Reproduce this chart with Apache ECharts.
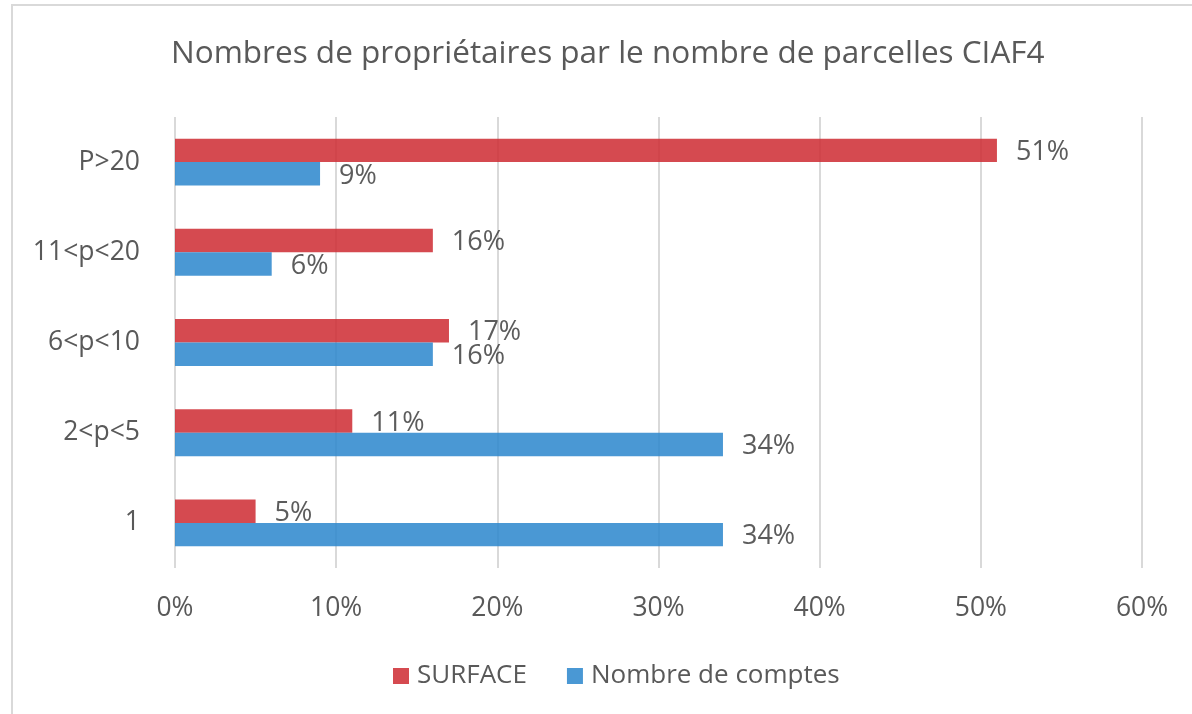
<!DOCTYPE html>
<html>
<head>
<meta charset="utf-8">
<script src="https://cdn.jsdelivr.net/npm/echarts@6/dist/echarts.min.js"></script>
<style>
  html, body { margin: 0; padding: 0; background: #fff; }
  #chart { width: 1192px; height: 714px; }
</style>
</head>
<body>
<div id="chart"></div>
<script>
// catégories (de bas en haut)
var categories = ['1', '2<p<5', '6<p<10', '11<p<20', 'P>20'];
// SURFACE en %
var surfaceData = [5, 11, 17, 16, 51];
// Nombre de comptes en %
var comptesData = [34, 34, 16, 6, 9];
var axisMin = 0, axisMax = 60, axisStep = 10;

var font = 'Open Sans';
var chart = echarts.init(document.getElementById('chart'));

var labelStyle = {
  show: true,
  position: 'right',
  distance: 19,
  offset: [0, 2],
  formatter: '{c}%',
  color: '#404040',
  fontFamily: font,
  fontSize: 27
};

chart.setOption({
  backgroundColor: '#fff',
  animation: false,
  title: {
    text: 'Nombres de propriétaires par le nombre de parcelles CIAF4',
    left: 166,
    top: 33,
    textStyle: { color: '#595959', fontFamily: font, fontSize: 31.5, fontWeight: 'normal' }
  },
  graphic: [{
    type: 'rect',
    shape: { x: 12, y: 5, width: 1200, height: 730 },
    style: { fill: 'none', stroke: '#d9d9d9', lineWidth: 2 },
    silent: true
  }],
  legend: {
    data: ['SURFACE', 'Nombre de comptes'],
    bottom: 20,
    left: 388,
    itemWidth: 16,
    itemHeight: 16,
    itemGap: 40,
    icon: 'rect',
    textStyle: { color: '#595959', fontFamily: font, fontSize: 26, padding: [0, 0, 0, 3] }
  },
  grid: { left: 175, right: 50, top: 117, bottom: 146 },
  xAxis: {
    type: 'value',
    min: axisMin,
    max: axisMax,
    interval: axisStep,
    axisLine: { show: false },
    axisTick: { show: false },
    axisLabel: { formatter: '{value}%', color: '#595959', fontFamily: font, fontSize: 26.5, margin: 27 },
    splitLine: { lineStyle: { color: '#d9d9d9', width: 2 } }
  },
  yAxis: {
    type: 'category',
    data: categories,
    axisLine: { show: false },
    axisTick: { show: false },
    axisLabel: { color: '#595959', fontFamily: font, fontSize: 26.5, margin: 35 }
  },
  series: [
    {
      // premier = en haut de chaque groupe
      name: 'SURFACE',
      type: 'bar',
      data: surfaceData,
      barGap: '0%',
      barCategoryGap: '48%',
      itemStyle: { color: '#ce2a31', opacity: 0.85 },
      label: labelStyle
    },
    {
      name: 'Nombre de comptes',
      type: 'bar',
      data: comptesData,
      barGap: '0%',
      barCategoryGap: '48%',
      itemStyle: { color: '#2a86cd', opacity: 0.85 },
      label: labelStyle
    }
  ]
});
</script>
</body>
</html>
